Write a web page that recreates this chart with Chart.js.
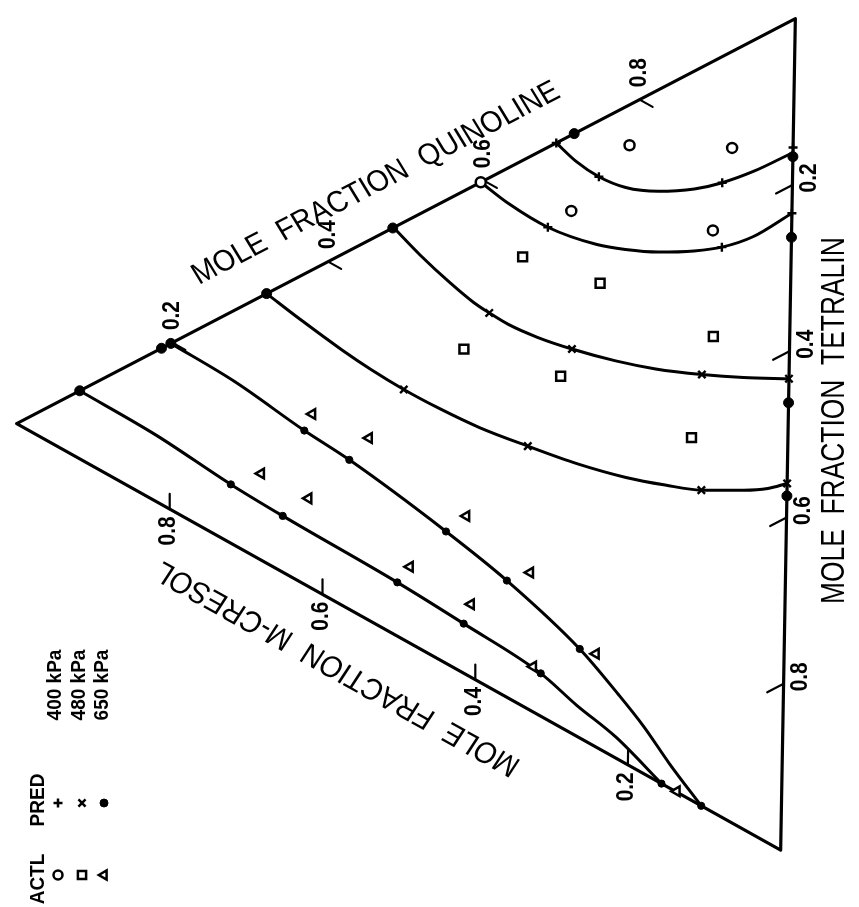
<!DOCTYPE html>
<html>
<head>
<meta charset="utf-8">
<script src="https://cdn.jsdelivr.net/npm/chart.js@4.4.0/dist/chart.umd.min.js"></script>
<style>
  html, body { margin: 0; padding: 0; background: #fff; overflow: hidden; }
  canvas { display: block; }
</style>
</head>
<body>
<canvas id="c" width="859" height="907"></canvas>
<script>
// Compositions are [x_quinoline, x_tetralin]; x_m-cresol = 1 - x_quinoline - x_tetralin.

// Predicted boundary curves, two per pressure
const curve400a = [[0.693,0.000],[0.684,0.036],[0.681,0.068],[0.686,0.098],[0.703,0.123],[0.730,0.143],[0.756,0.153],[0.790,0.159],[0.839,0.161]];
const curve400b = [[0.596,0.000],[0.589,0.044],[0.587,0.097],[0.599,0.149],[0.612,0.173],[0.631,0.197],[0.656,0.218],[0.679,0.231],[0.712,0.238],[0.766,0.234]];
const curve480a = [[0.484,0.000],[0.469,0.050],[0.456,0.102],[0.448,0.142],[0.446,0.164],[0.445,0.190],[0.449,0.224],[0.458,0.260],[0.473,0.302],[0.490,0.337],[0.514,0.373],[0.538,0.403],[0.567,0.433]];
const curve480b = [[0.321,0.000],[0.312,0.057],[0.304,0.116],[0.300,0.158],[0.298,0.203],[0.299,0.249],[0.303,0.297],[0.313,0.350],[0.325,0.403],[0.341,0.450],[0.358,0.484],[0.376,0.513],[0.404,0.540],[0.422,0.553],[0.441,0.559]];
const curve650a = [[0.198,0.000],[0.195,0.086],[0.183,0.190],[0.178,0.254],[0.157,0.402],[0.139,0.500],[0.106,0.629],[0.077,0.710],[0.056,0.764],[0.029,0.825],[0.000,0.896]];
const curve650b = [[0.081,0.000],[0.079,0.102],[0.070,0.209],[0.067,0.280],[0.064,0.433],[0.059,0.525],[0.051,0.634],[0.037,0.695],[0.025,0.759],[0.000,0.844]];

// Predicted points (PRED)
const pred400 = [[0.693,0.000],[0.681,0.068],[0.756,0.153],[0.845,0.155],[0.587,0.097],[0.679,0.231],[0.766,0.234]];
const pred480 = [[0.446,0.164],[0.458,0.260],[0.514,0.373],[0.567,0.433],[0.298,0.203],[0.313,0.350],[0.376,0.513],[0.441,0.559]];
const pred650 = [[0.183,0.190],[0.178,0.254],[0.157,0.402],[0.139,0.500],[0.106,0.629],[0.000,0.896],
                 [0.070,0.209],[0.067,0.280],[0.064,0.433],[0.059,0.525],[0.051,0.634],[0.000,0.844]];

// Measured points (ACTL)
const actl400 = [[0.739,0.049],[0.804,0.117],[0.622,0.092],[0.693,0.205],[0.596,0.000]];
const actl480 = [[0.535,0.117],[0.555,0.198],[0.386,0.192],[0.418,0.286],[0.567,0.334],[0.432,0.443]];
const actl650 = [[0.208,0.175],[0.217,0.240],[0.103,0.215],[0.105,0.275],[0.189,0.396],[0.091,0.422],
                 [0.164,0.505],[0.087,0.506],[0.111,0.645],[0.054,0.621],[0.001,0.863]];

// Binary end points on the quinoline/m-cresol and quinoline/tetralin sides
const binaryPoints = [[0.716,0],[0.483,0],[0.321,0],[0.198,0],[0.186,0],[0.081,0],
                      [0.834,0.166],[0.737,0.263],[0.538,0.462],[0.426,0.574]];

// Axis ticks
const tickValues = [0.2, 0.4, 0.6, 0.8];

// Text
const titleQuinoline = 'MOLE  FRACTION  QUINOLINE';
const titleTetralin = 'MOLE  FRACTION  TETRALIN';
const titleCresol = 'MOLE  FRACTION  M-CRESOL';
const legendHeaders = ['ACTL', 'PRED'];
const legendPressures = ['400 kPa', '480 kPa', '650 kPa'];

// ---- sheet geometry (page units) ----
const SHEET_W = 859, SHEET_H = 907;
const CORNER_CRESOL = [8, 423], CORNER_QUINOLINE = [803, 10], CORNER_TETRALIN = [788, 858];
const STRETCH = 1.083;   // the sheet is slightly wider than tall

function toSheet(q, t) {
  const c = 1 - q - t;
  return {
    x: c * CORNER_CRESOL[0] + q * CORNER_QUINOLINE[0] + t * CORNER_TETRALIN[0],
    y: c * CORNER_CRESOL[1] + q * CORNER_QUINOLINE[1] + t * CORNER_TETRALIN[1]
  };
}
const pts = arr => arr.map(([q, t]) => toSheet(q, t));

const lineStyle = (data, width, smooth) => ({
  data: pts(data), showLine: true, borderColor: '#000', borderWidth: width,
  pointRadius: 0, tension: smooth ? 0.4 : 0,
  cubicInterpolationMode: smooth ? 'monotone' : 'default',
  fill: false, clip: false, borderCapStyle: 'round', borderJoinStyle: 'round'
});
const markStyle = (data, style, radius, fill, width, rotation) => ({
  data: pts(data), showLine: false, pointStyle: style, pointRadius: radius,
  pointBackgroundColor: fill, pointBorderColor: '#000', pointBorderWidth: width,
  pointRotation: rotation || 0, clip: false
});

const datasets = [];
// markers first so they sit on top of the lines
datasets.push(markStyle(actl400, 'circle', 5, '#fff', 2.5));
datasets.push(markStyle(actl480, 'rect', 6.3, '#fff', 2.5));
datasets.push(markStyle(actl650, 'triangle', 5.6, '#fff', 2.5, -90));
datasets.push(markStyle(pred400, 'cross', 4.5, '#000', 2.4));
datasets.push(markStyle(pred480, 'crossRot', 5.2, '#000', 2.4));
datasets.push(markStyle(pred650, 'circle', 3.6, '#000', 1));
datasets.push(markStyle(binaryPoints, 'circle', 5, '#000', 1));

[curve400a, curve400b, curve480a, curve480b, curve650a, curve650b]
  .forEach(c => datasets.push(lineStyle(c, 3, true)));

// tick strokes, drawn along the constant-composition direction into the triangle
tickValues.forEach(v => {
  datasets.push(lineStyle([[v, 0], [v, 0.017]], 2.2, false));                    // quinoline
  datasets.push(lineStyle([[1 - v, v], [1 - v - 0.021, v]], 2.2, false));        // tetralin
  datasets.push(lineStyle([[0, 1 - v], [0.018, 1 - v - 0.018]], 2.2, false));    // m-cresol
});

// triangle frame
datasets.push(lineStyle([[0, 0], [1, 0], [0, 1], [0, 0]], 3.2, false));

function putText(ctx, str, x, y, deg, font, condense) {
  ctx.save();
  ctx.translate(x, y);
  ctx.scale(STRETCH, 1);
  ctx.rotate(deg * Math.PI / 180);
  ctx.scale(condense || 1, 1);
  ctx.font = font;
  ctx.textAlign = 'center';
  ctx.textBaseline = 'middle';
  ctx.fillStyle = '#000';
  ctx.fillText(str, 0, 0);
  ctx.restore();
}

const sheetText = {
  id: 'sheetText',
  afterDraw(chart) {
    const ctx = chart.ctx;
    const sx = chart.scales.x, sy = chart.scales.y;
    const px = (q, t) => {
      const p = toSheet(q, t);
      return [sx.getPixelForValue(p.x), sy.getPixelForValue(p.y)];
    };
    const tickFont = 'bold 22px "Liberation Sans", Arial, sans-serif';
    const titleFont = '30px "Liberation Sans", Arial, sans-serif';

    tickValues.forEach(v => {
      const s = v.toFixed(1);
      let [x, y] = px(v, 0);
      putText(ctx, s, x, y - 27, -90, tickFont, 0.95);
      [x, y] = px(1 - v, v);
      putText(ctx, s, x + 17, y - 7, -90, tickFont, 0.95);
      [x, y] = px(0, 1 - v);
      putText(ctx, s, x - 1, y + 22, -90, tickFont, 0.95);
    });

    let [x, y] = px(0.4616, 0);
    putText(ctx, titleQuinoline, x, y - 53, -29.36, titleFont, 0.88);
    [x, y] = px(1 - 0.4835, 0.4835);
    putText(ctx, titleTetralin, x + 47, y, -90, titleFont, 0.88);
    [x, y] = px(0, 0.4205);
    putText(ctx, titleCresol, x, y + 65, 211.13, titleFont, 0.9);

    // legend block
    const legFont = 'bold 19px "Liberation Sans", Arial, sans-serif';
    putText(ctx, legendHeaders[0], 38.5, 879, -90, legFont);
    putText(ctx, legendHeaders[1], 38.5, 800, -90, legFont);
    const cols = [55.5, 79, 102];
    legendPressures.forEach((s, i) => putText(ctx, s, cols[i], 685, -90, legFont));

    const drawPoint = Chart.helpers.drawPoint;
    const mark = (style, r, fill, lw, rot, x0, y0) => {
      ctx.save();
      ctx.fillStyle = fill; ctx.strokeStyle = '#000'; ctx.lineWidth = lw;
      drawPoint(ctx, { pointStyle: style, radius: r, rotation: rot || 0, borderWidth: lw }, x0, y0);
      ctx.restore();
    };
    mark('circle', 4.5, '#fff', 2.5, 0, 58, 875);
    mark('rect', 5.8, '#fff', 2.5, 0, 82, 875);
    mark('triangle', 5.2, '#fff', 2.5, -90, 104, 875);
    mark('cross', 4.5, '#000', 2.5, 0, 58, 803);
    mark('crossRot', 5, '#000', 2.5, 0, 82, 803);
    mark('circle', 4, '#000', 1, 0, 104, 803);
  }
};

new Chart(document.getElementById('c'), {
  type: 'scatter',
  data: { datasets },
  options: {
    responsive: false,
    animation: false,
    devicePixelRatio: 1,
    events: [],
    layout: { padding: 0 },
    plugins: { legend: { display: false }, tooltip: { enabled: false } },
    scales: {
      x: { type: 'linear', min: 0, max: SHEET_W, display: false },
      y: { type: 'linear', min: 0, max: SHEET_H, reverse: true, display: false }
    }
  },
  plugins: [sheetText]
});
</script>
</body>
</html>
